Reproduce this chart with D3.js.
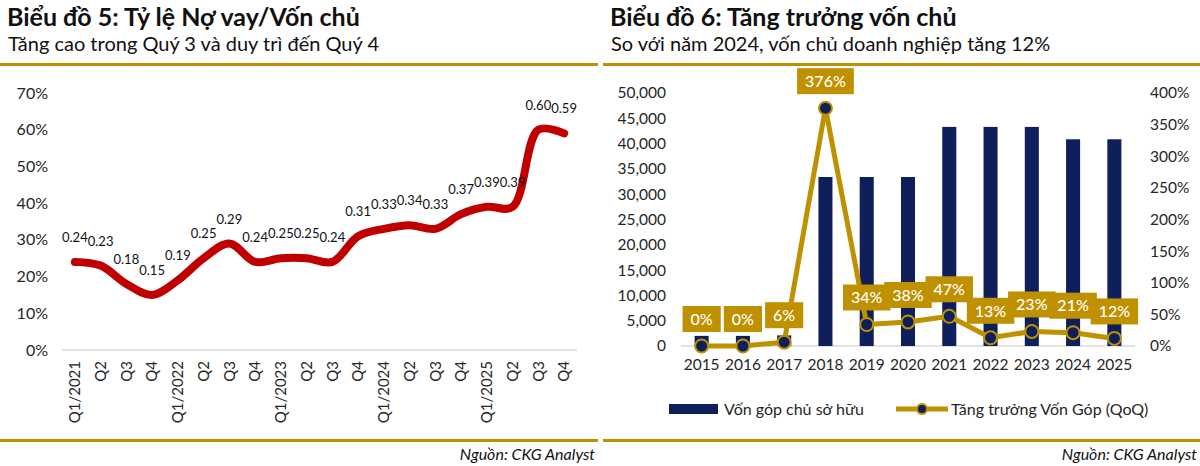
<!DOCTYPE html>
<html>
<head>
<meta charset="utf-8">
<script src="https://cdn.jsdelivr.net/npm/d3@7"></script>
<style>
  body { margin: 0; background: #fff; }
  text { font-family: Lato, "Open Sans", sans-serif; }
</style>
</head>
<body>
<svg width="1200" height="466"></svg>
<script>
// chart 5 data
const quarters = ["Q1/2021","Q2","Q3","Q4","Q1/2022","Q2","Q3","Q4","Q1/2023","Q2","Q3","Q4",
                  "Q1/2024","Q2","Q3","Q4","Q1/2025","Q2","Q3","Q4"];
const debtRatio = [0.24,0.23,0.18,0.15,0.19,0.25,0.29,0.24,0.25,0.25,0.24,0.31,
                   0.33,0.34,0.33,0.37,0.39,0.39,0.60,0.59];
const ratioTicks = [0,0.1,0.2,0.3,0.4,0.5,0.6,0.7];

// chart 6 data
const years = ["2015","2016","2017","2018","2019","2020","2021","2022","2023","2024","2025"];
const capital = [2000,2000,2100,33400,33400,33400,43300,43300,43300,40850,40850];
const growth = [0,0,0.06,3.76,0.34,0.38,0.47,0.13,0.23,0.21,0.12];
const capitalTicks = [0,5000,10000,15000,20000,25000,30000,35000,40000,45000,50000];
const growthTicks = [0,0.5,1,1.5,2,2.5,3,3.5,4];

const gold = "#bf9000", navy = "#0e1f5b", red = "#c00000", txt = "#262626";
const svg = d3.select("svg");

// headers, rules and source notes for both panels
function panelFrame(x0, x1, title, sub)
{
    svg.append("text").attr("x", x0 + 7).attr("y", 26)
       .attr("font-size", 25).attr("font-weight", 700).attr("fill", "#111").text(title);
    svg.append("text").attr("x", x0 + 8).attr("y", 51)
       .attr("font-size", 20).attr("fill", "#111").text(sub);
    svg.append("rect").attr("x", x0).attr("y", 63).attr("width", x1 - x0).attr("height", 3).attr("fill", gold);
    svg.append("rect").attr("x", x0).attr("y", 439).attr("width", x1 - x0).attr("height", 3).attr("fill", gold);
    svg.append("text").attr("x", x1 - 3).attr("y", 460).attr("text-anchor", "end")
       .attr("font-size", 16).attr("font-style", "italic").attr("fill", "#111").text("Nguồn: CKG Analyst");
}
panelFrame(0, 598, "Biểu đồ 5: Tỷ lệ Nợ vay/Vốn chủ", "Tăng cao trong Quý 3 và duy trì đến Quý 4");
panelFrame(603, 1200, "Biểu đồ 6: Tăng trưởng vốn chủ", "So với năm 2024, vốn chủ doanh nghiệp tăng 12%");

// ---------- chart 5 ----------
{
    const x = d3.scaleBand().domain(d3.range(quarters.length)).range([62, 577]);
    const y = d3.scaleLinear().domain([0, 0.7]).range([350, 93]);
    const g = svg.append("g");

    g.append("line").attr("x1", 62).attr("x2", 577).attr("y1", y(0)).attr("y2", y(0))
     .attr("stroke", "#d9d9d9").attr("stroke-width", 1.5);

    const ya = g.append("g").attr("transform", "translate(62,0)")
        .call(d3.axisLeft(y).tickValues(ratioTicks).tickFormat(d3.format(".0%")).tickSize(0).tickPadding(14));
    ya.select(".domain").remove();
    ya.selectAll("text").attr("font-size", 16).attr("fill", txt).attr("font-family", "Lato");

    const xa = g.append("g").attr("transform", "translate(0," + y(0) + ")")
        .call(d3.axisBottom(x).tickFormat(i => quarters[i]).tickSize(0));
    xa.select(".domain").remove();
    xa.selectAll("text").attr("font-size", 15).attr("fill", txt).attr("font-family", "Liberation Sans, Arial")
      .attr("transform", "rotate(-90)").attr("text-anchor", "end").attr("dy", "0.35em").attr("x", -11).attr("y", 0);

    const cx = i => x(i) + x.bandwidth() / 2;
    const line = d3.line().x((d, i) => cx(i)).y(d => y(d)).curve(d3.curveCatmullRom.alpha(0.5));
    g.append("path").datum(debtRatio).attr("d", line).attr("fill", "none")
     .attr("stroke", red).attr("stroke-width", 8).attr("stroke-linecap", "round").attr("stroke-linejoin", "round");

    g.selectAll(".lbl").data(debtRatio).enter().append("text")
     .attr("x", (d, i) => cx(i)).attr("y", d => y(d) - 20).attr("text-anchor", "middle")
     .attr("font-size", 13).attr("font-family", "Open Sans").attr("fill", "#111")
     .text(d => d.toFixed(2));
}

// ---------- chart 6 ----------
{
    const x = d3.scaleBand().domain(years).range([681, 1135]).paddingInner(0.66).paddingOuter(0.33);
    const cx = d => x(d) + x.bandwidth() / 2;
    const yL = d3.scaleLinear().domain([0, 50000]).range([346, 93]);
    const yR = d3.scaleLinear().domain([0, 4]).range([346, 93]);
    const g = svg.append("g");

    g.append("line").attr("x1", 681).attr("x2", 1135).attr("y1", 346).attr("y2", 346)
     .attr("stroke", "#d9d9d9").attr("stroke-width", 1.5);

    const ya = g.append("g").attr("transform", "translate(681,0)")
        .call(d3.axisLeft(yL).tickValues(capitalTicks).tickFormat(d3.format(",")).tickSize(0).tickPadding(15));
    ya.select(".domain").remove();
    ya.selectAll("text").attr("font-size", 15.5).attr("fill", txt);

    const yb = g.append("g").attr("transform", "translate(1135,0)")
        .call(d3.axisRight(yR).tickValues(growthTicks).tickFormat(d3.format(".0%")).tickSize(0).tickPadding(15));
    yb.select(".domain").remove();
    yb.selectAll("text").attr("font-size", 15.5).attr("fill", txt);

    const xa = g.append("g").attr("transform", "translate(0,346)")
        .call(d3.axisBottom(x).tickSize(0).tickPadding(13));
    xa.select(".domain").remove();
    xa.selectAll("text").attr("font-size", 15.5).attr("fill", txt);

    g.selectAll(".bar").data(years).enter().append("rect")
     .attr("x", d => x(d)).attr("width", x.bandwidth())
     .attr("y", (d, i) => yL(capital[i])).attr("height", (d, i) => 346 - yL(capital[i]))
     .attr("fill", navy);

    const line = d3.line().x((d, i) => cx(years[i])).y(d => yR(d));
    g.append("path").datum(growth).attr("d", line).attr("fill", "none")
     .attr("stroke", gold).attr("stroke-width", 5).attr("stroke-linejoin", "round");

    g.selectAll(".dot").data(growth).enter().append("circle")
     .attr("cx", (d, i) => cx(years[i])).attr("cy", d => yR(d)).attr("r", 6.5)
     .attr("fill", navy).attr("stroke", gold).attr("stroke-width", 2);

    const lbl = g.selectAll(".glbl").data(growth).enter().append("g")
     .attr("transform", (d, i) => "translate(" + cx(years[i]) + "," + (yR(d) - 27) + ")");
    lbl.append("text").attr("text-anchor", "middle").attr("dy", "0.36em")
     .attr("font-size", 16).attr("font-weight", 500).attr("fill", "#fff")
     .text(d => d3.format(".0%")(d));
    lbl.insert("rect", "text").each(function() {
        const w = this.parentNode.querySelector("text").getComputedTextLength() + 16;
        d3.select(this).attr("x", -w / 2).attr("width", w).attr("y", -13).attr("height", 26).attr("fill", gold);
    });

    // legend
    const lg = svg.append("g");
    lg.append("rect").attr("x", 669).attr("y", 404).attr("width", 49).attr("height", 10).attr("fill", navy);
    lg.append("text").attr("x", 724).attr("y", 415).attr("font-size", 16).attr("fill", txt).text("Vốn góp chủ sở hữu");
    lg.append("line").attr("x1", 896).attr("x2", 948).attr("y1", 409).attr("y2", 409)
      .attr("stroke", gold).attr("stroke-width", 5);
    lg.append("circle").attr("cx", 922).attr("cy", 409).attr("r", 5).attr("fill", navy).attr("stroke", gold).attr("stroke-width", 2);
    lg.append("text").attr("x", 951).attr("y", 415).attr("font-size", 16).attr("fill", txt).text("Tăng trưởng Vốn Góp (QoQ)");
}
</script>
</body>
</html>
